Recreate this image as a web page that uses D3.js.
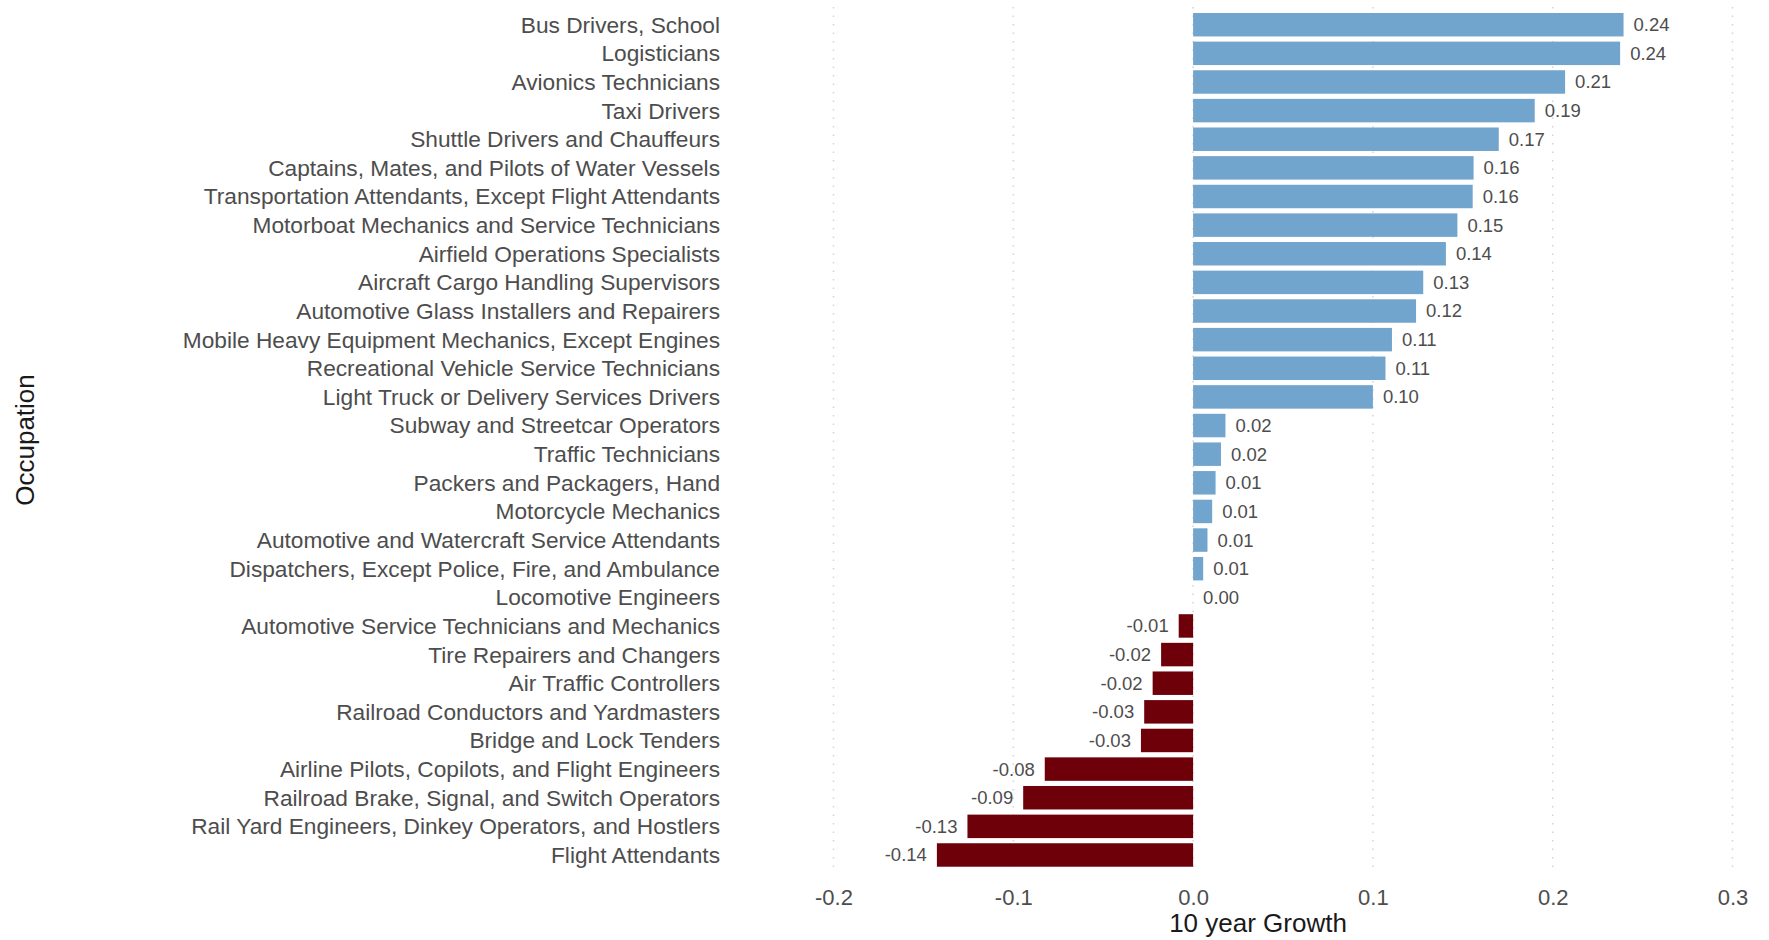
<!DOCTYPE html>
<html>
<head>
<meta charset="utf-8">
<script src="https://cdn.jsdelivr.net/npm/d3@7"></script>
<style>
  body { margin: 0; background: #fff; }
  text { font-family: "Liberation Sans", Arial, sans-serif; }
</style>
</head>
<body>
<div id="chart"></div>
<script>
// occupations, top to bottom
var occupations = [
  "Bus Drivers, School",
  "Logisticians",
  "Avionics Technicians",
  "Taxi Drivers",
  "Shuttle Drivers and Chauffeurs",
  "Captains, Mates, and Pilots of Water Vessels",
  "Transportation Attendants, Except Flight Attendants",
  "Motorboat Mechanics and Service Technicians",
  "Airfield Operations Specialists",
  "Aircraft Cargo Handling Supervisors",
  "Automotive Glass Installers and Repairers",
  "Mobile Heavy Equipment Mechanics, Except Engines",
  "Recreational Vehicle Service Technicians",
  "Light Truck or Delivery Services Drivers",
  "Subway and Streetcar Operators",
  "Traffic Technicians",
  "Packers and Packagers, Hand",
  "Motorcycle Mechanics",
  "Automotive and Watercraft Service Attendants",
  "Dispatchers, Except Police, Fire, and Ambulance",
  "Locomotive Engineers",
  "Automotive Service Technicians and Mechanics",
  "Tire Repairers and Changers",
  "Air Traffic Controllers",
  "Railroad Conductors and Yardmasters",
  "Bridge and Lock Tenders",
  "Airline Pilots, Copilots, and Flight Engineers",
  "Railroad Brake, Signal, and Switch Operators",
  "Rail Yard Engineers, Dinkey Operators, and Hostlers",
  "Flight Attendants"
];

// 10 year growth
var growth = [
  0.2394, 0.2375, 0.2069, 0.1900, 0.1700, 0.1560, 0.1555, 0.1470,
  0.1406, 0.1280, 0.1240, 0.1106, 0.1070, 0.1000, 0.0180, 0.0155,
  0.0125, 0.0106, 0.0080, 0.0056, 0.0000, -0.0080, -0.0178, -0.0225,
  -0.0272, -0.0290, -0.0825, -0.0945, -0.1255, -0.1425
];

var xTicks = [-0.2, -0.1, 0.0, 0.1, 0.2, 0.3];

var data = occupations.map(function(d, i) { return { name: d, value: growth[i] }; });

var width = 1769, height = 940;
var posColor = "#72a5cd", negColor = "#6e0009";

var svg = d3.select("#chart").append("svg")
  .attr("width", width)
  .attr("height", height);

var x = d3.scaleLinear()
  .domain([-0.2, 0.3])
  .range([833.5, 1732.5]);

var y = d3.scaleBand()
  .domain(occupations)
  .range([10.4, 869.3])
  .paddingInner(0.18)
  .paddingOuter(0.09);

var fmt = function(v, p) { return d3.format("." + p + "f")(v).replace("\u2212", "-"); };

// dotted vertical grid
svg.append("g")
  .selectAll("line")
  .data(xTicks)
  .enter().append("line")
    .attr("x1", d => x(d))
    .attr("x2", d => x(d))
    .attr("y1", 7)
    .attr("y2", 872)
    .attr("stroke", "#d4d4d4")
    .attr("stroke-width", 1.5)
    .attr("stroke-dasharray", "1.5,7");

// bars
svg.append("g")
  .selectAll("rect")
  .data(data)
  .enter().append("rect")
    .attr("x", d => x(Math.min(0, d.value)))
    .attr("y", d => y(d.name))
    .attr("width", d => Math.abs(x(d.value) - x(0)))
    .attr("height", y.bandwidth())
    .attr("fill", d => d.value < 0 ? negColor : posColor);

// value labels
svg.append("g")
  .selectAll("text")
  .data(data)
  .enter().append("text")
    .attr("x", d => d.value < 0 ? x(d.value) - 10 : x(d.value) + 10)
    .attr("y", d => y(d.name) + y.bandwidth() / 2)
    .attr("dy", "0.35em")
    .attr("text-anchor", d => d.value < 0 ? "end" : "start")
    .style("font-size", "18.5px")
    .attr("fill", "#4d4d4d")
    .text(d => fmt(d.value, 2));

// category labels
svg.append("g")
  .selectAll("text")
  .data(occupations)
  .enter().append("text")
    .attr("x", 720)
    .attr("y", d => y(d) + y.bandwidth() / 2)
    .attr("dy", "0.35em")
    .attr("text-anchor", "end")
    .style("font-size", "22.7px")
    .attr("fill", "#4d4d4d")
    .text(d => d);

// x axis
var xAxis = d3.axisBottom(x)
  .tickValues(xTicks)
  .tickSize(0)
  .tickPadding(0)
  .tickFormat(d => fmt(d, 1));

var gx = svg.append("g")
  .attr("transform", "translate(0,889)")
  .call(xAxis);
gx.select(".domain").remove();
gx.selectAll("text")
  .style("font-size", "22px")
  .style("font-family", "'Liberation Sans', Arial, sans-serif")
  .attr("fill", "#4d4d4d");

// axis titles
svg.append("text")
  .attr("x", 1258)
  .attr("y", 932)
  .attr("text-anchor", "middle")
  .style("font-size", "26px")
  .attr("fill", "#1a1a1a")
  .text("10 year Growth");

svg.append("text")
  .attr("transform", "translate(34,440) rotate(-90)")
  .attr("text-anchor", "middle")
  .style("font-size", "26px")
  .attr("fill", "#1a1a1a")
  .text("Occupation");
</script>
</body>
</html>
